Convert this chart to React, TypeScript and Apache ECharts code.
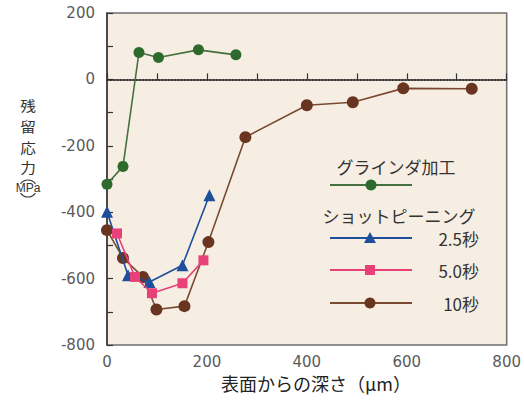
import React, { useEffect, useRef } from 'react';
import * as echarts from 'echarts';

const grindingData: number[][] = [[0, -316], [32, -262], [64, 81], [103, 66], [183, 89], [258, 74]];
const shot25Data: number[][] = [[0, -399], [42, -590], [85, -610], [151, -560], [205, -349]];
const shot50Data: number[][] = [[20, -464], [56, -595], [90, -644], [151, -614], [193, -545]];
const shot10Data: number[][] = [[0, -454], [32, -538], [72, -595], [99, -693], [155, -683], [203, -490], [277, -174], [400, -78], [492, -69], [593, -27], [730, -28]];

const seriesNames = ['グラインダ加工', '2.5秒', '5.0秒', '10秒'];
const legendHeading2 = 'ショットピーニング';
const xTitle = '表面からの深さ（μm）';
const yTitleChars = ['残', '留', '応', '力'];
const yTitleUnit = 'MPa';

const GREEN = '#2f6a2d';
const GREEN_L = '#45703f';
const BLUE = '#1d4f9a';
const PINK = '#e8417a';
const BROWN = '#6a3520';
const BROWN_L = '#7a4a30';

export default function App() {
  const ref = useRef<HTMLDivElement>(null);
  useEffect(() => {
    const chart = echarts.init(ref.current!, null, { renderer: 'svg' });
    const numFont = { fontFamily: 'DejaVu Sans', fontSize: 15, color: '#5a5a5a' };
    const jp = 'Noto Sans CJK JP';
    const legendRow = (y: number, color: string, marker: any, label: string | null) => {
      const els: any[] = [
        { type: 'line', shape: { x1: 330, y1: y, x2: 412, y2: y }, style: { stroke: color, lineWidth: 2 } },
        marker,
      ];
      if (label) {
        els.push({ type: 'text', x: 479, y, style: { text: label, font: `17px ${jp}`, fill: '#333', align: 'right', verticalAlign: 'middle' } });
      }
      return els;
    };
    chart.setOption({
      animation: false,
      backgroundColor: '#ffffff',
      grid: {
        left: 107, right: 15, top: 13, bottom: 57,
        show: true, backgroundColor: '#f7eee3', borderColor: '#6f6f6f', borderWidth: 1.5,
      },
      xAxis: {
        type: 'value', min: 0, max: 800, interval: 100,
        axisLine: { show: true, lineStyle: { color: '#333', width: 1.5 } },
        axisTick: { show: true, inside: true, length: 6, lineStyle: { color: '#333', width: 1.2 } },
        axisLabel: { ...numFont, margin: 9, formatter: (v: number) => (v % 200 === 0 ? String(v) : '') },
        splitLine: { show: false },
      },
      yAxis: {
        type: 'value', min: -800, max: 200, interval: 100,
        axisLine: { show: true, lineStyle: { color: '#333', width: 1.5 } },
        axisTick: { show: true, inside: true, length: 6, lineStyle: { color: '#333', width: 1.2 } },
        axisLabel: { ...numFont, margin: 12, formatter: (v: number) => (v % 200 === 0 ? String(v) : '') },
        splitLine: { show: false },
      },
      series: [
        {
          name: seriesNames[0], type: 'line', data: grindingData, symbol: 'circle', symbolSize: 11,
          lineStyle: { color: GREEN_L, width: 1.6 }, itemStyle: { color: GREEN },
          markLine: {
            silent: true, symbol: 'none', label: { show: false },
            lineStyle: { type: 'dotted', color: '#222', width: 1.6 },
            data: [{ yAxis: 0 }],
          },
          z: 5,
        },
        {
          name: seriesNames[1], type: 'line', data: shot25Data, symbol: 'triangle', symbolSize: 12,
          lineStyle: { color: BLUE, width: 1.6 }, itemStyle: { color: BLUE }, z: 3,
        },
        {
          name: seriesNames[2], type: 'line', data: shot50Data, symbol: 'rect', symbolSize: 10,
          lineStyle: { color: PINK, width: 1.6 }, itemStyle: { color: PINK }, z: 4,
        },
        {
          name: seriesNames[3], type: 'line', data: shot10Data, symbol: 'circle', symbolSize: 12,
          lineStyle: { color: BROWN_L, width: 1.6 }, itemStyle: { color: BROWN }, z: 2,
        },
      ],
      graphic: [
        { type: 'text', x: 316, y: 383, style: { text: xTitle, font: `18px ${jp}`, fill: '#222', align: 'center', verticalAlign: 'middle' } },
        {
          type: 'text', x: 28, y: 95, scaleX: 1.12,
          style: { text: yTitleChars.join('\n'), font: `14px ${jp}`, lineHeight: 20.6, fill: '#333', align: 'center', verticalAlign: 'top' },
        },
        { type: 'arc', shape: { cx: 28, cy: 189, r: 9, startAngle: Math.PI + 0.6, endAngle: 2 * Math.PI - 0.6 }, style: { stroke: '#333', lineWidth: 1.1, fill: 'none' } },
        { type: 'text', x: 28, y: 188, style: { text: yTitleUnit, font: `12px 'Liberation Sans'`, fill: '#333', align: 'center', verticalAlign: 'middle' } },
        { type: 'arc', shape: { cx: 28, cy: 188, r: 9, startAngle: 0.6, endAngle: Math.PI - 0.6 }, style: { stroke: '#333', lineWidth: 1.1, fill: 'none' } },
        { type: 'text', x: 396, y: 166, style: { text: seriesNames[0], font: `17px ${jp}`, fill: '#333', align: 'center', verticalAlign: 'middle' } },
        ...legendRow(185, GREEN_L, { type: 'circle', shape: { cx: 371, cy: 185, r: 5.5 }, style: { fill: GREEN } }, null),
        { type: 'text', x: 399, y: 215, style: { text: legendHeading2, font: `17px ${jp}`, fill: '#333', align: 'center', verticalAlign: 'middle' } },
        ...legendRow(238, BLUE, { type: 'polygon', shape: { points: [[370, 232], [376, 243], [364, 243]] }, style: { fill: BLUE } }, seriesNames[1]),
        ...legendRow(270, PINK, { type: 'rect', shape: { x: 365, y: 265, width: 10, height: 10 }, style: { fill: PINK } }, seriesNames[2]),
        ...legendRow(303, BROWN_L, { type: 'circle', shape: { cx: 370, cy: 303, r: 5.5 }, style: { fill: BROWN } }, seriesNames[3]),
      ],
    });
    return () => chart.dispose();
  }, []);
  return <div ref={ref} style={{ position: 'fixed', left: 0, top: 0, width: 524, height: 402 }} />;
}
